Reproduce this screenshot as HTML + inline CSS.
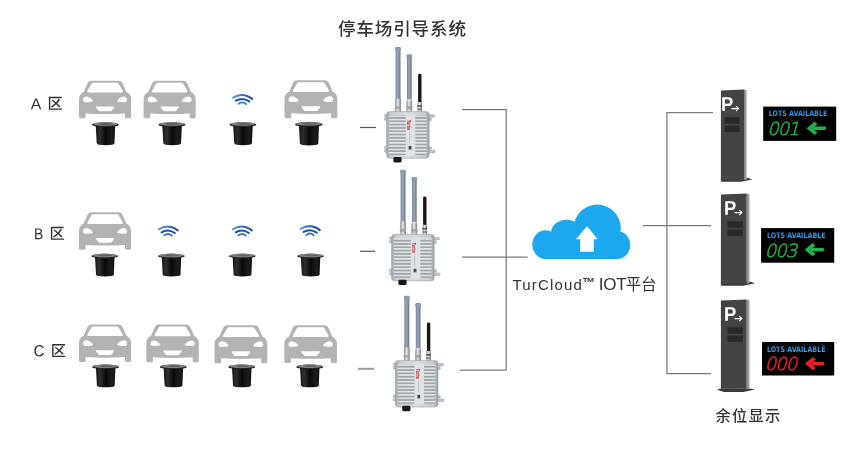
<!DOCTYPE html>
<html lang="zh-CN">
<head>
<meta charset="utf-8">
<title>停车场引导系统</title>
<style>
html,body{margin:0;padding:0;background:#fff;}
body{width:854px;height:451px;overflow:hidden;position:relative;font-family:"Liberation Sans","Noto Sans CJK SC",sans-serif;}
svg{position:absolute;left:0;top:0;display:block;will-change:transform;}
svg{font-family:"Liberation Sans","Noto Sans CJK SC",sans-serif;}
.lbl{fill:#333;}
.cjk{font-family:"Noto Sans CJK SC","Liberation Sans",sans-serif;}
.zone{font-size:15.3px;font-weight:500;fill:#333;}
</style>
</head>
<body>
<svg width="854" height="451" viewBox="0 0 854 451">
<defs>
  <linearGradient id="gAnt" x1="0" x2="1" y1="0" y2="0">
    <stop offset="0" stop-color="#6f7e92"/><stop offset="0.4" stop-color="#9aa8ba"/><stop offset="1" stop-color="#67768b"/>
  </linearGradient>
  <linearGradient id="gSil" x1="0" x2="1" y1="0" y2="0">
    <stop offset="0" stop-color="#8a8a8a"/><stop offset="0.45" stop-color="#e8e8e8"/><stop offset="1" stop-color="#7c7c7c"/>
  </linearGradient>
  <linearGradient id="gBox" x1="0" x2="1" y1="0" y2="0">
    <stop offset="0" stop-color="#9fa4aa"/><stop offset="0.1" stop-color="#c9cdd1"/><stop offset="0.5" stop-color="#dadde0"/><stop offset="0.9" stop-color="#c6cace"/><stop offset="1" stop-color="#9a9fa5"/>
  </linearGradient>
  <linearGradient id="gSide" x1="0" x2="1" y1="0" y2="0">
    <stop offset="0" stop-color="#7c7c7c"/><stop offset="1" stop-color="#b4b4b4"/>
  </linearGradient>
  <linearGradient id="gWifiA" x1="0" x2="1" y1="0" y2="0">
    <stop offset="0" stop-color="#5c9ce2"/><stop offset="1" stop-color="#1a3fa8"/>
  </linearGradient>
  <linearGradient id="gWifiB" x1="0" x2="1" y1="0" y2="0">
    <stop offset="0" stop-color="#1f4fb8"/><stop offset="1" stop-color="#2a62c8"/>
  </linearGradient>
  <linearGradient id="gSen" x1="0" x2="1" y1="0" y2="0">
    <stop offset="0" stop-color="#161616"/><stop offset="0.22" stop-color="#2e2e2e"/><stop offset="0.5" stop-color="#0a0a0a"/><stop offset="0.8" stop-color="#1c1c1c"/><stop offset="1" stop-color="#101010"/>
  </linearGradient>
  <linearGradient id="gLots" x1="0" x2="0" y1="0" y2="1">
    <stop offset="0" stop-color="#1f78cc"/><stop offset="1" stop-color="#45b2f2"/>
  </linearGradient>
  <pattern id="fins" x="0" y="0.6" width="6" height="3.32" patternUnits="userSpaceOnUse">
    <rect x="0" y="0" width="6" height="1.5" fill="#e8eaec"/>
    <rect x="0" y="1.5" width="6" height="1.82" fill="#9fa4aa"/>
  </pattern>

  <!-- car: local box 52 x 37.5 -->
  <g id="car">
    <path fill="#b3b3b3" fill-rule="evenodd" d="M12.6,0 H39.5 Q42.4,0 43.6,2.4 L47.4,11.2 Q52.1,13.6 52.1,18.4 V36.2 Q52.1,37.5 50.8,37.5 H47.3 Q46,37.5 46,36.2 V32.6 Q26,34 6.6,32.6 V36.2 Q6.6,37.5 5.3,37.5 H1.3 Q0,37.5 0,36.2 V18.4 Q0,13.6 4.7,11.2 L8.5,2.4 Q9.7,0 12.6,0 Z
      M14.6,2 Q12.9,2 12.2,3.4 L8.4,9.9 Q7.6,11.6 9.4,11.6 H42.7 Q44.5,11.6 43.7,9.9 L39.9,3.4 Q39.2,2 37.5,2 Z
      M4.1,18.6 Q4.5,15.8 7.9,15.8 Q12.3,16.8 14,20.4 Q12.1,21.4 5.6,21.4 Q3.9,20.9 4.1,18.6 Z
      M48,18.6 Q47.6,15.8 44.2,15.8 Q39.8,16.8 38.1,20.4 Q40,21.4 46.5,21.4 Q48.2,20.9 48,18.6 Z
      M17.8,25.8 H34.3 Q35.9,25.8 35,27 L32.7,29.8 Q32.2,30.4 31.2,30.4 H20.9 Q19.9,30.4 19.4,29.8 L17.1,27 Q16.2,25.8 17.8,25.8 Z"/>
  </g>
  <!-- sensor: local origin at flange centre -->
  <g id="sensor">
    <path d="M-9.6,1 H9.9 L9.2,18.9 Q9.1,20.2 6.9,20.5 Q0,21.4 -6.4,20.5 Q-8.5,20.2 -8.6,18.9 Z" fill="url(#gSen)"/>
    <ellipse cx="0.1" cy="0.5" rx="13.4" ry="2.4" fill="#232323"/>
    <ellipse cx="0.1" cy="-0.2" rx="12.4" ry="1.8" fill="#808080"/>
    <ellipse cx="0.6" cy="-0.2" rx="7" ry="0.9" fill="#606060"/>
  </g>
  <!-- wifi: local origin (242,100) -->
  <g id="wifi" fill="none" stroke-linecap="round">
    <path d="M-8.9,-2.3 Q0.4,-8.4 10.2,-1.1" stroke-width="2" stroke="url(#gWifiA)"/>
    <path d="M-6,0.7 Q0.4,-3.1 7.2,1.4" stroke-width="2" stroke="#1f4db8"/>
    <path d="M-3.3,3.7 Q0.3,0.9 4.1,4" stroke-width="1.9" stroke="#3a78cf"/>
  </g>
  <!-- gateway: local origin = box top-left (386.6,111.6) -->
  <g id="gw">
    <!-- antennas -->
    <rect x="9" y="-62" width="4.9" height="50" fill="url(#gAnt)"/>
    <rect x="8.5" y="-64.6" width="5.9" height="3.8" rx="1.2" fill="#8c9bb0"/>
    <rect x="20.4" y="-55" width="4.7" height="43" fill="url(#gAnt)"/>
    <rect x="19.9" y="-57.3" width="5.7" height="3.8" rx="1.2" fill="#8c9bb0"/>
    <rect x="31.5" y="-37.8" width="3.4" height="29" rx="1.4" fill="#161616"/>
    <rect x="8.6" y="-12.8" width="5.7" height="13.6" fill="url(#gSil)"/>
    <rect x="8.2" y="-5.2" width="6.5" height="2.4" fill="#a2a2a2"/>
    <rect x="19.9" y="-11.2" width="5.6" height="12" fill="url(#gSil)"/>
    <rect x="19.5" y="-5.2" width="6.4" height="2.4" fill="#a2a2a2"/>
    <rect x="31" y="-9.4" width="4.4" height="10" fill="url(#gSil)"/>
    <rect x="30.8" y="-6.4" width="4.8" height="1.6" fill="#555"/>
    <rect x="30.8" y="-3" width="4.8" height="1.4" fill="#777"/>
    <!-- ears -->
    <g fill="#c3c7cb" stroke="#8f9499" stroke-width="0.5">
      <rect x="-2.2" y="2.6" width="5" height="2.7" rx="1.3"/>
      <rect x="-2.2" y="6" width="5" height="2.7" rx="1.3"/>
      <rect x="-2.2" y="34.6" width="5" height="2.7" rx="1.3"/>
      <rect x="-2.2" y="38" width="5" height="2.7" rx="1.3"/>
      <rect x="40" y="3.2" width="8" height="2.4" rx="1.2"/>
      <rect x="40" y="6.6" width="5" height="2.4" rx="1.2"/>
      <rect x="40" y="35.2" width="5" height="2.4" rx="1.2"/>
      <rect x="40" y="38.6" width="8.6" height="2.6" rx="1.2"/>
    </g>
    <!-- box -->
    <rect x="0" y="0" width="42.6" height="46.6" rx="3.2" fill="url(#gBox)" stroke="#9a9fa5" stroke-width="0.6"/>
    <rect x="2.4" y="3.6" width="17" height="39.8" rx="1" fill="url(#fins)"/>
    <rect x="28.6" y="3.6" width="11.4" height="39.8" rx="1" fill="url(#fins)"/>
    <rect x="19.2" y="3" width="9.4" height="41" fill="#dfe2e5"/>
    <rect x="22" y="34.4" width="2.8" height="3.6" fill="#4a4a4a"/>
    <rect x="22.6" y="20.4" width="0.9" height="11" fill="#b9bcc0"/>
    <!-- bottom connector -->
    <rect x="6.8" y="45.4" width="8.2" height="5.4" rx="1.4" fill="#1a1a1a"/>
  </g>
  <!-- display -->
  <g id="arrow">
    <path d="M18.8,4.5 H6 V8 H18.8 Z"/>
    <path d="M7.6,-0.3 L-0.4,6.25 L7.6,12.9 L10.4,10.4 L5.4,6.25 L10.4,2.2 Z"/>
  </g>
</defs>

<rect width="854" height="451" fill="#fff"/>

<!-- connection lines -->
<g fill="none" stroke="#7a7a7a" stroke-width="1.25">
  <path d="M360,127.5 H376" stroke="#5a5a5a"/>
  <path d="M360,251.3 H375" stroke="#5a5a5a"/>
  <path d="M358,368.8 H374" stroke="#9a9a9a" stroke-width="2"/>
  <path d="M462,109.7 H506.2 V370.1 H460"/>
  <path d="M462,257.1 H527.7"/>
  <path d="M713,112.5 H666.9 V373.6 H711"/>
  <path d="M643,225.7 H711"/>
</g>

<!-- title -->
<text x="338" y="35" class="cjk" font-size="17.5" font-weight="500" fill="#333" letter-spacing="0.9">停车场引导系统</text>

<!-- zone labels -->
<text transform="translate(30.8,109.2) rotate(0.03)" class="lbl" font-size="15.8">A</text><text transform="translate(47.6,109) rotate(0.03)" class="cjk zone">区</text>
<text transform="translate(34,239.2) rotate(0.03) scale(0.88,1)" class="lbl" font-size="15.8">B</text><text transform="translate(49.5,239.1) rotate(0.03)" class="cjk zone">区</text>
<text transform="translate(33.5,356.3) rotate(0.03) scale(0.95,1)" class="lbl" font-size="16.2">C</text><text transform="translate(50.8,356.2) rotate(0.03)" class="cjk zone">区</text>

<!-- row A -->
<use href="#car" x="79" y="80.8"/>
<use href="#car" x="143.6" y="80.8"/>
<use href="#wifi" x="242" y="100"/>
<use href="#car" transform="translate(284.5,80.2) scale(1.014)"/>
<use href="#sensor" x="105.3" y="124.2"/>
<use href="#sensor" x="171.9" y="124.2"/>
<use href="#sensor" x="242.8" y="124.2"/>
<use href="#sensor" transform="translate(308.8,123.9) scale(1.03)"/>

<!-- row B -->
<use href="#car" x="79" y="212.3"/>
<use href="#wifi" x="167.6" y="231.6"/>
<use href="#wifi" x="241.7" y="231.6"/>
<use href="#wifi" x="309.6" y="231.2"/>
<use href="#sensor" x="104.6" y="255.6"/>
<use href="#sensor" x="171.3" y="255.6"/>
<use href="#sensor" x="242.2" y="255.6"/>
<use href="#sensor" x="310.4" y="255.6"/>

<!-- row C -->
<use href="#car" x="79" y="324.5"/>
<use href="#car" transform="translate(146.3,324.5) scale(1.008)"/>
<use href="#car" transform="translate(214.5,325.2) scale(1.014)"/>
<use href="#car" transform="translate(284.3,325.2) scale(1.01)"/>
<use href="#sensor" x="105.5" y="366.4"/>
<use href="#sensor" x="173.2" y="366.4"/>
<use href="#sensor" x="241.6" y="366.4"/>
<use href="#sensor" x="309.6" y="366.4"/>

<!-- gateways -->
<use href="#gw" x="386.6" y="111.6"/>
<text transform="translate(406.9,120.0) rotate(90)" font-size="6" font-weight="bold" fill="#d21a1a" textLength="10.2" lengthAdjust="spacingAndGlyphs">Turbo</text>
<use href="#gw" x="391.6" y="234.3"/>
<text transform="translate(411.9,242.7) rotate(90)" font-size="6" font-weight="bold" fill="#d21a1a" textLength="10.2" lengthAdjust="spacingAndGlyphs">Turbo</text>
<use href="#gw" x="395.4" y="360.4"/>
<text transform="translate(415.7,368.8) rotate(90)" font-size="6" font-weight="bold" fill="#d21a1a" textLength="10.2" lengthAdjust="spacingAndGlyphs">Turbo</text>

<!-- cloud -->
<g fill="#1ba8ee">
  <ellipse cx="545.5" cy="244.6" rx="13.2" ry="14.4"/>
  <ellipse cx="566.5" cy="233" rx="15.5" ry="13.3"/>
  <circle cx="597.2" cy="228.2" r="23.6"/>
  <ellipse cx="617" cy="245" rx="13.2" ry="14"/>
  <rect x="545.5" y="234" width="71.5" height="25"/>
</g>
<path d="M587.1,226 L597.6,239.3 H593.8 V251.7 H580.2 V239.3 H575.9 Z" fill="#fff"/>
<text x="512.6" y="290" font-size="15" fill="#333" letter-spacing="1.15">TurCloud<tspan font-size="12.6" font-weight="bold" dy="-3.4" dx="-0.4" letter-spacing="0">™</tspan><tspan dy="3.4" font-size="17" font-weight="normal" dx="3.6" letter-spacing="-0.2">IOT</tspan><tspan class="cjk" font-size="15.4" letter-spacing="0" dx="-0.6">平台</tspan></text>

<!-- pylon 1 -->
<path d="M720.9,177.6 H746.7 L752.3,179.4 L741,181.7 H720.9 Z" fill="#3a3a3a"/>
<path d="M720.9,90.5 L744,89.6 V180.3 H720.9 Z" fill="#444"/>
<path d="M744,89.6 L746.7,90.2 V179.6 L744,180.3 Z" fill="url(#gSide)"/>
<rect x="724.7" y="117.3" width="14.8" height="6.4" fill="#2a2a2a"/>
<rect x="724.7" y="125.6" width="14.8" height="6.5" fill="#2a2a2a"/>
<!-- pylon 2 -->
<path d="M720.9,281.4 H749.6 L755,283.3 L743.4,285.7 H720.9 Z" fill="#3a3a3a"/>
<path d="M720.9,194.5 L746.7,193.6 V283.7 H720.9 Z" fill="#444"/>
<path d="M746.7,193.6 L749.6,194.2 V283 L746.7,283.7 Z" fill="url(#gSide)"/>
<rect x="727.5" y="221.3" width="15.3" height="6.4" fill="#2a2a2a"/>
<rect x="727.5" y="229.6" width="15.3" height="6.5" fill="#2a2a2a"/>
<!-- pylon 3 -->
<path d="M720.9,388.6 H749.6 L755,389.6 L743.4,392 H724 L717,389.8 Z" fill="#3a3a3a"/>
<path d="M720.9,300.5 L746.7,299.6 V388.8 H720.9 Z" fill="#444"/>
<path d="M746.7,299.6 L749.6,300.2 V388.2 L746.7,388.8 Z" fill="url(#gSide)"/>
<rect x="727.5" y="327.3" width="15.3" height="6.4" fill="#2a2a2a"/>
<rect x="727.5" y="335.6" width="15.3" height="6.5" fill="#2a2a2a"/>
<g fill="#fff" font-weight="bold" font-size="19.8">
  <text transform="translate(721,110.7) rotate(0.03) scale(0.93,1)">P</text>
  <text transform="translate(723.9,214.7) rotate(0.03) scale(0.93,1)">P</text>
  <text transform="translate(723.9,320.7) rotate(0.03) scale(0.93,1)">P</text>
</g>
<g fill="none" stroke="#fff" stroke-width="1.1" stroke-linejoin="miter">
  <path d="M731.4,108.6 H738.4 M736,106.2 L738.6,108.6 L736,111"/>
  <path d="M734.5,212.6 H741.7 M739.3,210.2 L741.9,212.6 L739.3,215"/>
  <path d="M734.5,318.6 H741.7 M739.3,316.2 L741.9,318.6 L739.3,321"/>
</g>

<!-- displays -->
<rect x="763.2" y="106.6" width="73" height="34.3" fill="#000"/>
<rect x="761.1" y="228.1" width="73.1" height="34.6" fill="#000"/>
<rect x="762" y="342" width="72.2" height="33.5" fill="#000"/>
<g font-weight="bold" font-size="7.6" fill="url(#gLots)" style="font-family:'DejaVu Sans','Liberation Sans',sans-serif">
  <text transform="translate(768.7,116.3) rotate(0.03)" textLength="58.6" lengthAdjust="spacingAndGlyphs">LOTS AVAILABLE</text>
  <text transform="translate(767,237.9) rotate(0.03)" textLength="58.6" lengthAdjust="spacingAndGlyphs">LOTS AVAILABLE</text>
  <text transform="translate(766.9,351.6) rotate(0.03)" textLength="58.6" lengthAdjust="spacingAndGlyphs">LOTS AVAILABLE</text>
</g>
<g font-size="18" font-style="italic" font-weight="200" letter-spacing="-1" stroke-width="0.6" style="font-family:'DejaVu Sans Light','DejaVu Sans','Liberation Sans',sans-serif">
  <text x="767.2" y="134.6" fill="#1fb24b" stroke="#1fb24b">001</text>
  <text x="764.8" y="256.5" fill="#1fb24b" stroke="#1fb24b">003</text>
  <text x="764.8" y="370" fill="#e8202a" stroke="#e8202a">000</text>
</g>
<use href="#arrow" x="807" y="122" fill="#1fb24b"/>
<use href="#arrow" x="805" y="243.4" fill="#1fb24b"/>
<use href="#arrow" x="805.3" y="357.3" fill="#e8202a"/>

<!-- bottom label -->
<text x="715.6" y="421.4" class="cjk" font-size="15.2" font-weight="500" fill="#333" letter-spacing="1.25">余位显示</text>
</svg>
</body>
</html>
